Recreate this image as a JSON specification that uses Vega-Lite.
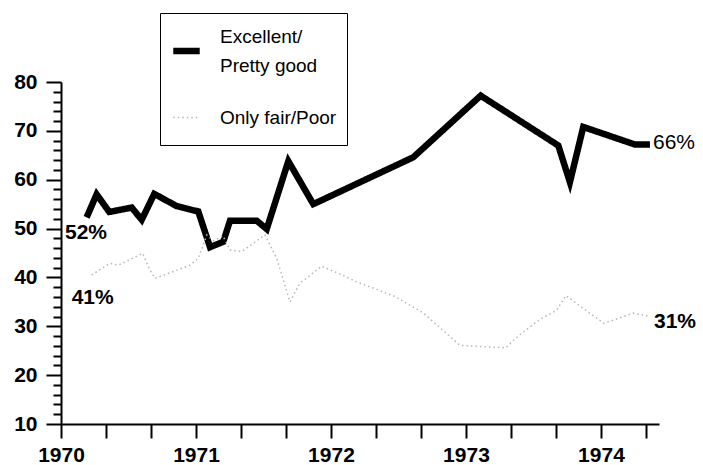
{
  "$schema": "https://vega.github.io/schema/vega-lite/v6.json",
  "width": 598,
  "height": 342,
  "autosize": "none",
  "padding": {"left": 61, "top": 82, "right": 44, "bottom": 41},
  "background": "white",
  "config": {"view": {"stroke": null}, "font": "Liberation Sans"},
  "data": {"values": [
    {"series": "Excellent/Pretty good", "year": 1970.19, "value": 52.3},
    {"series": "Excellent/Pretty good", "year": 1970.264, "value": 57.0},
    {"series": "Excellent/Pretty good", "year": 1970.358, "value": 53.4},
    {"series": "Excellent/Pretty good", "year": 1970.524, "value": 54.3},
    {"series": "Excellent/Pretty good", "year": 1970.598, "value": 51.8},
    {"series": "Excellent/Pretty good", "year": 1970.691, "value": 57.1},
    {"series": "Excellent/Pretty good", "year": 1970.857, "value": 54.6},
    {"series": "Excellent/Pretty good", "year": 1971.017, "value": 53.5},
    {"series": "Excellent/Pretty good", "year": 1971.104, "value": 46.2},
    {"series": "Excellent/Pretty good", "year": 1971.202, "value": 47.3},
    {"series": "Excellent/Pretty good", "year": 1971.252, "value": 51.6},
    {"series": "Excellent/Pretty good", "year": 1971.45, "value": 51.6},
    {"series": "Excellent/Pretty good", "year": 1971.524, "value": 49.9},
    {"series": "Excellent/Pretty good", "year": 1971.684, "value": 63.8},
    {"series": "Excellent/Pretty good", "year": 1971.869, "value": 55.0},
    {"series": "Excellent/Pretty good", "year": 1972.61, "value": 64.6},
    {"series": "Excellent/Pretty good", "year": 1973.109, "value": 77.2},
    {"series": "Excellent/Pretty good", "year": 1973.684, "value": 67.0},
    {"series": "Excellent/Pretty good", "year": 1973.77, "value": 59.5},
    {"series": "Excellent/Pretty good", "year": 1973.869, "value": 70.8},
    {"series": "Excellent/Pretty good", "year": 1974.252, "value": 67.2},
    {"series": "Excellent/Pretty good", "year": 1974.363, "value": 67.2},
    {"series": "Only fair/Poor", "year": 1970.227, "value": 40.5},
    {"series": "Only fair/Poor", "year": 1970.363, "value": 42.9},
    {"series": "Only fair/Poor", "year": 1970.424, "value": 42.5},
    {"series": "Only fair/Poor", "year": 1970.605, "value": 44.9},
    {"series": "Only fair/Poor", "year": 1970.659, "value": 41.5},
    {"series": "Only fair/Poor", "year": 1970.696, "value": 39.8},
    {"series": "Only fair/Poor", "year": 1970.956, "value": 42.5},
    {"series": "Only fair/Poor", "year": 1971.017, "value": 43.9},
    {"series": "Only fair/Poor", "year": 1971.08, "value": 48.7},
    {"series": "Only fair/Poor", "year": 1971.13, "value": 47.5},
    {"series": "Only fair/Poor", "year": 1971.2, "value": 48.5},
    {"series": "Only fair/Poor", "year": 1971.252, "value": 45.6},
    {"series": "Only fair/Poor", "year": 1971.339, "value": 45.3},
    {"series": "Only fair/Poor", "year": 1971.511, "value": 48.7},
    {"series": "Only fair/Poor", "year": 1971.598, "value": 43.9},
    {"series": "Only fair/Poor", "year": 1971.696, "value": 35.0},
    {"series": "Only fair/Poor", "year": 1971.77, "value": 38.8},
    {"series": "Only fair/Poor", "year": 1971.93, "value": 42.3},
    {"series": "Only fair/Poor", "year": 1972.067, "value": 40.7},
    {"series": "Only fair/Poor", "year": 1972.19, "value": 39.1},
    {"series": "Only fair/Poor", "year": 1972.474, "value": 36.1},
    {"series": "Only fair/Poor", "year": 1972.684, "value": 32.7},
    {"series": "Only fair/Poor", "year": 1972.956, "value": 26.1},
    {"series": "Only fair/Poor", "year": 1973.294, "value": 25.6},
    {"series": "Only fair/Poor", "year": 1973.395, "value": 28.2},
    {"series": "Only fair/Poor", "year": 1973.543, "value": 31.3},
    {"series": "Only fair/Poor", "year": 1973.672, "value": 33.3},
    {"series": "Only fair/Poor", "year": 1973.741, "value": 36.3},
    {"series": "Only fair/Poor", "year": 1973.802, "value": 35.0},
    {"series": "Only fair/Poor", "year": 1974.022, "value": 30.6},
    {"series": "Only fair/Poor", "year": 1974.239, "value": 32.7},
    {"series": "Only fair/Poor", "year": 1974.363, "value": 32.0}
  ]},
  "encoding": {
    "x": {
      "field": "year", "type": "quantitative",
      "scale": {"domain": [1970, 1974.43], "nice": false, "zero": false},
      "axis": {
        "title": null, "grid": false,
        "values": [1970, 1970.3333, 1970.6667, 1971, 1971.3333, 1971.6667, 1972, 1972.3333, 1972.6667, 1973, 1973.3333, 1973.6667, 1974, 1974.3333],
        "labelExpr": "abs(datum.value - round(datum.value)) < 0.01 ? format(round(datum.value), 'd') : ''",
        "domainColor": "#000000", "domainWidth": 2,
        "tickColor": "#000000", "tickWidth": 2, "tickSize": 14,
        "labelFont": "Liberation Sans", "labelFontSize": 21, "labelFontWeight": "bold", "labelColor": "#000000",
        "labelPadding": 6, "labelFlush": false, "labelOverlap": false, "labelDx": 3
      }
    },
    "y": {
      "field": "value", "type": "quantitative",
      "scale": {"domain": [10, 80], "nice": false, "zero": false},
      "axis": {
        "title": null, "grid": false,
        "values": [10, 12, 14, 16, 18, 20, 22, 24, 26, 28, 30, 32, 34, 36, 38, 40, 42, 44, 46, 48, 50, 52, 54, 56, 58, 60, 62, 64, 66, 68, 70, 72, 74, 76, 78, 80],
        "labelExpr": "datum.value % 10 === 0 ? datum.label : ''",
        "domainColor": "#000000", "domainWidth": 2,
        "tickColor": "#000000", "tickWidth": 2,
        "tickSize": {"condition": {"test": "datum.value % 10 === 0", "value": 15}, "value": 8},
        "labelFont": "Liberation Sans", "labelFontSize": 21, "labelFontWeight": "bold", "labelColor": "#000000",
        "labelPadding": 9, "labelOverlap": false
      }
    }
  },
  "layer": [
    {
      "mark": {"type": "line", "strokeJoin": "miter", "strokeCap": "butt"},
      "encoding": {
        "color": {
          "field": "series", "type": "nominal",
          "scale": {"domain": ["Excellent/Pretty good", "Only fair/Poor"], "range": ["#000000", "#b8b8b8"]},
          "legend": {
            "title": " ", "titleFontSize": 1, "titlePadding": 10.5,
            "orient": "none", "legendX": 99, "legendY": -69,
            "strokeColor": "#000000", "padding": 10,
            "labelFont": "Liberation Sans", "labelFontSize": 19, "labelColor": "#000000", "labelLimit": 400,
            "labelExpr": "datum.label === 'Excellent/Pretty good' ? ['Excellent/', 'Pretty good'] : ['Only fair/Poor', '']",
            "symbolType": "stroke", "symbolSize": 700, "labelOffset": 61, "rowPadding": 28,
            "encode": {
              "labels": {
                "update": {
                  "lineHeight": {"signal": "datum.value === 'Excellent/Pretty good' ? 29 : 7"},
                  "dx": {"value": -44},
                  "dy": {"signal": "datum.value === 'Excellent/Pretty good' ? -14.5 : 0"}
                }
              }
            }
          }
        },
        "strokeWidth": {
          "field": "series", "type": "nominal",
          "scale": {"domain": ["Excellent/Pretty good", "Only fair/Poor"], "range": [6.5, 1.5]}
        },
        "strokeDash": {
          "field": "series", "type": "nominal",
          "scale": {"domain": ["Excellent/Pretty good", "Only fair/Poor"], "range": [[1, 0], [1.5, 3]]}
        }
      }
    },
    {
      "transform": [{"filter": "datum.series === 'Excellent/Pretty good' && datum.year === 1970.19"}],
      "mark": {"type": "text", "text": "52%", "align": "left", "baseline": "middle", "dx": -21.7, "dy": 15.7, "font": "Liberation Sans", "fontSize": 21, "fontWeight": "bold", "color": "#000000"}
    },
    {
      "transform": [{"filter": "datum.series === 'Only fair/Poor' && datum.year === 1970.227"}],
      "mark": {"type": "text", "text": "41%", "align": "left", "baseline": "middle", "dx": -20, "dy": 23, "font": "Liberation Sans", "fontSize": 21, "fontWeight": "bold", "color": "#000000"}
    },
    {
      "transform": [{"filter": "datum.series === 'Excellent/Pretty good' && datum.year === 1974.363"}],
      "mark": {"type": "text", "text": "66%", "align": "left", "baseline": "middle", "dx": 3, "dy": -2, "font": "Liberation Sans", "fontSize": 21, "fontWeight": "normal", "color": "#000000"}
    },
    {
      "transform": [{"filter": "datum.series === 'Only fair/Poor' && datum.year === 1974.363"}],
      "mark": {"type": "text", "text": "31%", "align": "left", "baseline": "middle", "dx": 4, "dy": 5, "font": "Liberation Sans", "fontSize": 21, "fontWeight": "bold", "color": "#000000"}
    }
  ]
}
